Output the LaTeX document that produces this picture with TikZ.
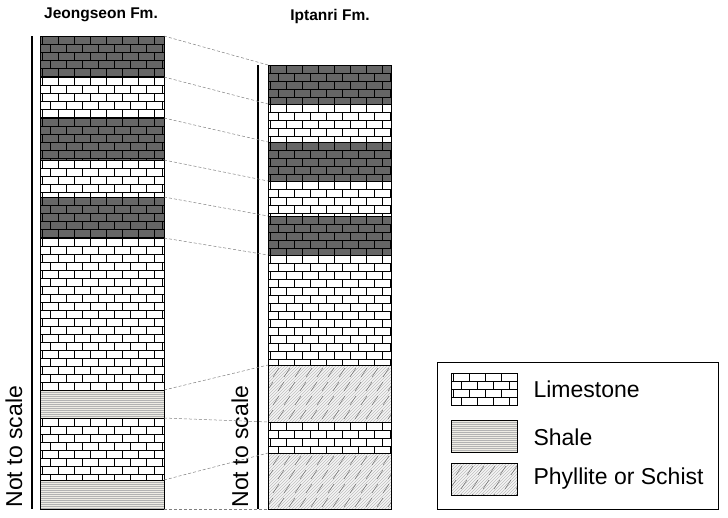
\documentclass[tikz,border=0pt]{standalone}
\usepackage{fontspec}
\setmainfont{Liberation Sans}
\definecolor{shalefill}{RGB}{238,236,228}
\tikzset{brickline/.style={line width=0.45pt,black},
 corr/.style={densely dashed,gray,line width=0.5pt},
 title/.style={font=\bfseries\fontsize{15.5}{18}\selectfont},
 axis/.style={line width=1.4pt},
 nts/.style={rotate=90,anchor=west,font=\fontsize{23}{26}\selectfont},
 leg/.style={anchor=west,font=\fontsize{23}{26}\selectfont}}
\newcommand\limelayer[5]{%
 \begin{scope}
 \clip (#1,#2) rectangle (#3,#4);
 \fill[#5] (#1,#2) rectangle (#3,#4);
 \foreach \r in {0,...,20}{
   \pgfmathsetmacro\yy{#2+\r*8}
   \pgfmathsetmacro\off{mod(\r,2)*8}
   \draw[brickline] (#1,\yy)--(#3,\yy);
   \foreach \c in {0,...,8}{\draw[brickline] ({#1+\off+\c*16+2},\yy) -- ++(0,8);}
 }
 \end{scope}
 \draw[line width=0.6pt] (#1,#2) rectangle (#3,#4);}
\newcommand\shalelayer[4]{%
 \fill[shalefill] (#1,#2) rectangle (#3,#4);
 \begin{scope}\clip (#1,#2) rectangle (#3,#4);
 \foreach \r in {0,...,20}{\draw[gray!60,line width=0.3pt] (#1,{#2+\r*2})--(#3,{#2+\r*2});}
 \end{scope}
 \draw[line width=0.6pt] (#1,#2) rectangle (#3,#4);}
\newcommand\phyllayer[4]{%
 \fill[gray!10] (#1,#2) rectangle (#3,#4);
 \begin{scope}\clip (#1,#2) rectangle (#3,#4);
 \foreach \k in {0,...,70}{\draw[gray!75,line width=0.3pt] ({#1-60+\k*3},#4) -- ++(60,-60);}
 \foreach \k in {0,...,12}{\foreach \j in {0,...,4}{
   \draw[black!70,line width=0.35pt] ({#1+\k*11+mod(\j,2)*5},{#2+\j*14+3}) -- ++(-6,9);}}
 \end{scope}
 \draw[line width=0.6pt] (#1,#2) rectangle (#3,#4);}
\begin{document}
\begin{tikzpicture}[x=1pt,y=-1pt]
\useasboundingbox (0,0) rectangle (728,517);
\node[title] (t1) at (101,15) {Jeongseon Fm.};
\node[title] (t2) at (330,16) {Iptanri Fm.};
% left column
\limelayer{40}{36}{164}{77}{black!60}
\limelayer{40}{77}{164}{118}{white}
\limelayer{40}{118}{164}{160}{black!60}
\limelayer{40}{160}{164}{197}{white}
\limelayer{40}{197}{164}{238}{black!60}
\limelayer{40}{238}{164}{390}{white}
\shalelayer{40}{390}{164}{418}
\limelayer{40}{418}{164}{480}{white}
\shalelayer{40}{480}{164}{509}
% right column
\limelayer{268}{65}{391}{104}{black!60}
\limelayer{268}{104}{391}{142}{white}
\limelayer{268}{142}{391}{181}{black!60}
\limelayer{268}{181}{391}{216}{white}
\limelayer{268}{216}{391}{255}{black!60}
\limelayer{268}{255}{391}{365}{white}
\phyllayer{268}{365}{391}{422}
\limelayer{268}{422}{391}{453}{white}
\phyllayer{268}{453}{391}{509}
% axes
\coordinate (a1) at (32,36); \coordinate (a2) at (32,509);
\coordinate (b1) at (258,65); \coordinate (b2) at (258,509);
\draw[axis] (a1)--(a2); \draw[axis] (b1)--(b2);
\node[nts] (n1) at (14,511) {Not to scale};
\node[nts] (n2) at (240,511) {Not to scale};
% correlations
\foreach \l/\r in {36/65,77/104,118/142,160/181,197/216,238/255,390/365,418/422,480/453,509/509}{
  \coordinate (L) at (164,\l); \coordinate (R) at (268,\r);
  \draw[corr] (L)--(R);}
% legend
\draw[line width=0.6pt] (437,362) rectangle (718,509);
\limelayer{451}{373}{517}{405}{white}
\shalelayer{451}{420}{517}{452}
\phyllayer{451}{463}{517}{495}
\node[leg] (l1) at (530,389) {Limestone};
\node[leg] (l2) at (530,437) {Shale};
\node[leg] (l3) at (530,479) {Phyllite or Schist};
\end{tikzpicture}
\end{document}
